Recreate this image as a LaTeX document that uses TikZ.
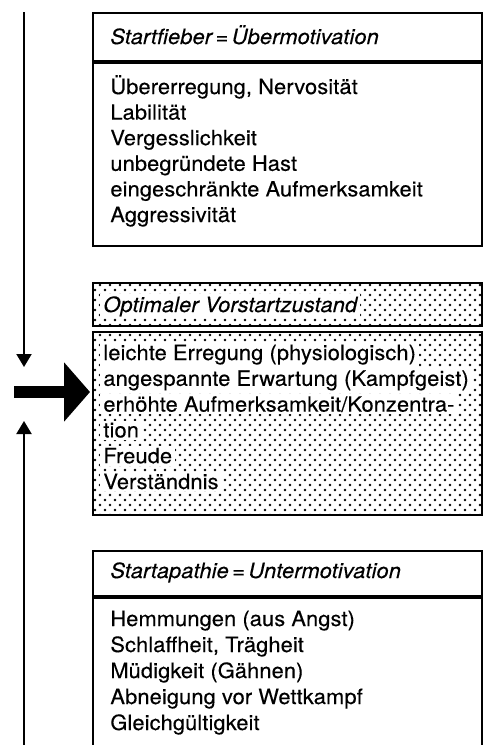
\documentclass[tikz,border=0pt]{standalone}
\usepackage{fontspec}
\setmainfont[FakeStretch=1.04,LetterSpace=0.5,FakeBold=0.3]{TeX Gyre Heros}
\usetikzlibrary{arrows.meta,positioning,patterns}
% fine offset dot screen for the optimal state
\pgfdeclarepatternformonly{stipple}{\pgfqpoint{-1pt}{-1pt}}{\pgfqpoint{4pt}{4pt}}{\pgfqpoint{5pt}{5pt}}{%
  \pgfpathcircle{\pgfqpoint{0pt}{0pt}}{.7pt}%
  \pgfpathcircle{\pgfqpoint{2.5pt}{2.5pt}}{.7pt}%
  \pgfusepath{fill}}

\begin{document}
\begin{tikzpicture}[x=0.5pt,y=-0.5pt,
    every node/.style={font=\fontsize{10.5}{12}\selectfont},
    frame/.style={draw,line width=1pt,inner sep=0pt,minimum width=194.5pt},
    head/.style={anchor=base west,inner sep=1pt,font=\fontsize{10.5}{12}\selectfont\itshape},
    item/.style={anchor=base west,inner sep=1pt},
    knockout/.style={fill=white,inner xsep=1.5pt},
    thin arrow/.style={line width=1pt,-{Triangle[length=6.5pt,width=7.5pt]}},
    big arrow/.style={line width=6pt,-{Triangle[length=13pt,width=29pt]},shorten >=1pt}]
  \useasboundingbox (0,0) rectangle (492,745);

  % Startfieber
  \node[frame,anchor=north west,minimum height=24pt] (fh) at (92,12) {};
  \node[frame,below=0pt of fh,minimum height=91.5pt] (fb) {};
  \node[head] (ft) at (108,44) {Startfieber\,=\,Übermotivation};
  \foreach \t [count=\i from 0] in {{Übererregung, Nervosität},Labilität,Vergesslichkeit,
      unbegründete Hast,eingeschränkte Aufmerksamkeit,Aggressivität}
    \node[item] (f\i) at (108,94+25.6*\i) {\t};

  % optimaler Vorstartzustand
  \node[frame,pattern=stipple,anchor=north west,minimum height=21.5pt] (oh) at (92,282) {};
  \node[frame,pattern=stipple,below=2pt of oh,minimum height=91.5pt] (ob) {};
  \node[head,knockout] (ot) at (100,312) {Optimaler Vorstartzustand};
  \foreach \t [count=\i from 0] in {leichte Erregung (physiologisch),angespannte Erwartung (Kampfgeist),
      erhöhte Aufmerksamkeit/Konzentra-,tion,Freude,Verständnis}
    \node[item,knockout] (o\i) at (100,360+25.8*\i) {\t};

  % Startapathie
  \node[frame,anchor=north west,minimum height=22.5pt] (ah) at (92,550) {};
  \node[frame,below=0pt of ah,minimum height=110pt] (ab) {};
  \node[head] (at) at (108,578) {Startapathie\,=\,Untermotivation};
  \foreach \t [count=\i from 0] in {Hemmungen (aus Angst),{Schlaffheit, Trägheit},Müdigkeit (Gähnen),
      Abneigung vor Wettkampf,Gleichgültigkeit}
    \node[item] (a\i) at (108,626+26*\i) {\t};

  % arrows on the left
  \coordinate (down) at (24,12);
  \coordinate (downtip) at (24,367);
  \coordinate (up) at (24,760);
  \coordinate (uptip) at (24,421);
  \coordinate (tail) at (14,392);
  \draw[thin arrow] (down) -- (downtip);
  \draw[thin arrow] (up) -- (uptip);
  \draw[big arrow] (tail) -- (tail -| ob.west);
\end{tikzpicture}
\end{document}
